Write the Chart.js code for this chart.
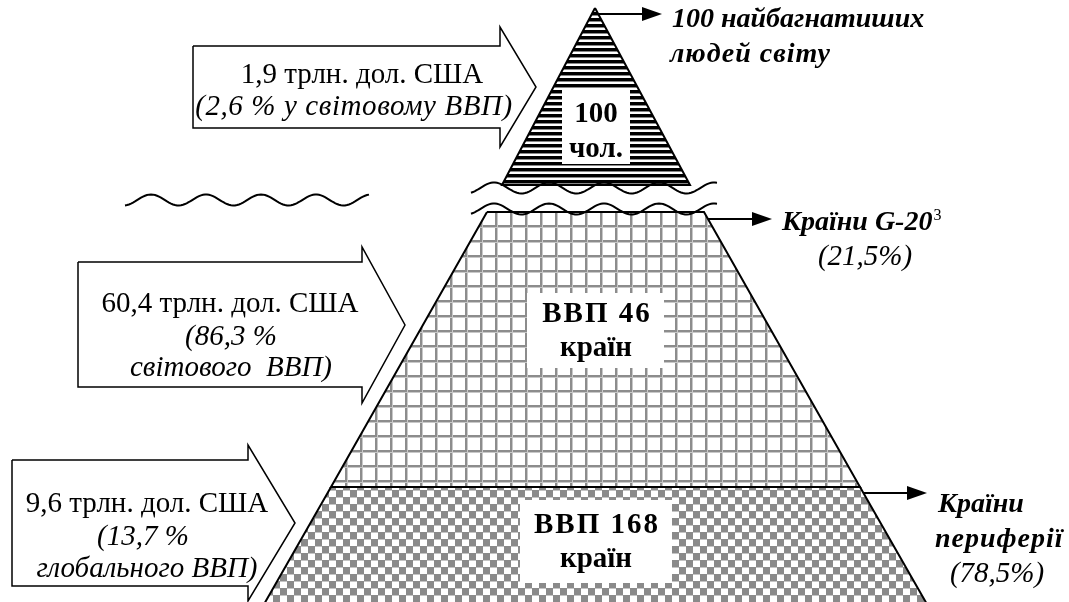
<!DOCTYPE html>
<html>
<head>
<meta charset="utf-8">
<script src="https://cdn.jsdelivr.net/npm/chart.js@4.4.1/dist/chart.umd.min.js"></script>
<style>
  html, body { margin: 0; padding: 0; background: #fff; }
  #wrap { width: 1069px; height: 602px; }
</style>
</head>
<body>
<div id="wrap"><canvas id="c" width="1069" height="602"></canvas></div>
<script>
/* values */
const gdpTrillions = ["1,9", "60,4", "9,6"];        // трлн. дол. США per tier
const gdpShares = ["2,6", "86,3", "13,7"];           // % of world GDP
const tierCounts = [100, 46, 168];                   // people / countries
const groupShares = ["21,5", "78,5"];                // G-20, periphery

/* ---------- layout (pixels in a 1069 x 602 frame) ---------- */
const SERIF = "'Liberation Serif', 'Times New Roman', serif";
const WAVE_AMP = 5.5, WAVE_PERIOD = 55;

const topTri = [[595, 8], [690, 185], [502, 185]];
const midTier = [[487, 212], [704, 212], [860, 487], [331, 487]];
const lowTier = [[331, 487], [860, 487], [928, 606], [263, 606]];

const labelBoxes = [
  [562, 90, 630, 164],
  [527, 293, 664, 368],
  [520, 500, 672, 583],
];

// block arrow: body x0,y0,x1,y1, head top/bottom, tip x
const blockArrows = [
  { x0: 193, y0: 46, x1: 500, y1: 128, hTop: 27, hBot: 147, tip: 536 },
  { x0: 78, y0: 262, x1: 362, y1: 387, hTop: 247, hBot: 403, tip: 405 },
  { x0: 12, y0: 460, x1: 248, y1: 586, hTop: 445, hBot: 601, tip: 295 },
];

// pointer arrows: from x, to x, y
const pointers = [
  { x0: 598, x1: 662, y: 14 },
  { x0: 708, x1: 772, y: 219 },
  { x0: 864, x1: 927, y: 493 },
];

/* ---------- fill patterns ---------- */
function tile(w, h, draw) {
  const c = document.createElement("canvas");
  c.width = w; c.height = h;
  const g = c.getContext("2d");
  g.fillStyle = "#fff"; g.fillRect(0, 0, w, h);
  draw(g);
  return document.getElementById("c").getContext("2d").createPattern(c, "repeat");
}
const stripes = tile(6, 6, g => {
  g.fillStyle = "#000"; g.fillRect(0, 0, 6, 3);
  g.fillStyle = "#888"; g.fillRect(0, 3, 6, 1);
});
const grid = tile(15, 15, g => {
  g.fillStyle = "#8c8c8c"; g.fillRect(0, 0, 15, 2); g.fillRect(0, 0, 2, 15);
  g.fillStyle = "#c8c8c8"; g.fillRect(0, 2, 15, 1); g.fillRect(2, 0, 1, 15);
});
const checker = tile(14, 14, g => {
  g.fillStyle = "#8a8a8a"; g.fillRect(0, 0, 7, 7); g.fillRect(7, 7, 7, 7);
  g.fillStyle = "#c4c4c4";
  g.fillRect(7, 0, 7, 1); g.fillRect(0, 7, 7, 1);
});

/* ---------- helpers ---------- */
const pt = ([x, y]) => ({ x, y });
function poly(pts, fill, border, bw) {
  return {
    data: [...pts, pts[0]].map(pt),
    fill: fill ? "shape" : false,
    backgroundColor: fill || "transparent",
    borderColor: border || "transparent",
    borderWidth: bw || 0,
    pointRadius: 0, tension: 0, clip: false,
  };
}
function line(points, bw) {
  return {
    data: points, fill: false, borderColor: "#000", borderWidth: bw,
    pointRadius: 0, tension: 0, clip: false,
  };
}
function wave(x0, x1, yc, crestX) {
  const pts = [];
  for (let x = x0; x <= x1; x += 2) {
    pts.push({ x, y: yc - WAVE_AMP * Math.cos(2 * Math.PI * (x - crestX) / WAVE_PERIOD) });
  }
  return pts;
}
function blockArrow(a) {
  const cy = (a.hTop + a.hBot) / 2;
  return poly([[a.x0, a.y0], [a.x1, a.y0], [a.x1, a.hTop], [a.tip, cy],
    [a.x1, a.hBot], [a.x1, a.y1], [a.x0, a.y1]], "#fff", "#000", 1.5);
}

/* ---------- datasets in paint order (first = bottom) ---------- */
const layers = [
  poly(lowTier, checker, "#000", 2),
  poly(midTier, grid, "#000", 2),
  poly(topTri, stripes, "#000", 2),
  ...labelBoxes.map(([x0, y0, x1, y1]) => poly([[x0, y0], [x1, y0], [x1, y1], [x0, y1]], "#fff")),
  ...blockArrows.map(blockArrow),
  line(wave(125, 370, 200, 151), 2),
  line(wave(471, 718, 188, 494), 2),
  line(wave(471, 718, 209, 494), 2),
];
pointers.forEach(p => {
  layers.push(line([{ x: p.x0, y: p.y }, { x: p.x1 - 16, y: p.y }], 2));
  layers.push(poly([[p.x1 - 20, p.y - 7], [p.x1, p.y], [p.x1 - 20, p.y + 7]], "#000"));
});
layers.forEach((d, i) => { d.order = layers.length - i; });

/* ---------- text ---------- */
const texts = [
  // block arrows
  { t: `${gdpTrillions[0]} трлн. дол. США`, x: 362, y: 83, f: "", a: "center" },
  { t: `(${gdpShares[0]} % у світовому ВВП)`, x: 354, y: 115, f: "italic", a: "center", ls: 0.6 },
  { t: `${gdpTrillions[1]} трлн. дол. США`, x: 230, y: 312, f: "", a: "center" },
  { t: `(${gdpShares[1]} %`, x: 231, y: 345, f: "italic", a: "center" },
  { t: "світового  ВВП)", x: 231, y: 376, f: "italic", a: "center" },
  { t: `${gdpTrillions[2]} трлн. дол. США`, x: 147, y: 512, f: "", a: "center" },
  { t: `(${gdpShares[2]} %`, x: 143, y: 545, f: "italic", a: "center" },
  { t: "глобального ВВП)", x: 147, y: 577, f: "italic", a: "center" },
  // tier labels
  { t: `${tierCounts[0]}`, x: 596, y: 122, f: "bold", a: "center" },
  { t: "чол.", x: 596, y: 157, f: "bold", a: "center" },
  { t: `ВВП ${tierCounts[1]}`, x: 597, y: 322, f: "bold", a: "center", ls: 2 },
  { t: "країн", x: 596, y: 356, f: "bold", a: "center" },
  { t: `ВВП ${tierCounts[2]}`, x: 597, y: 533, f: "bold", a: "center", ls: 2 },
  { t: "країн", x: 596, y: 567, f: "bold", a: "center" },
  // right side
  { t: `${tierCounts[0]} найбагнатиших`, x: 672, y: 27, f: "italic bold", a: "left", s: 28 },
  { t: "людей світу", x: 670, y: 62, f: "italic bold", a: "left", s: 28, ls: 1 },
  { t: "Країни G-20", x: 782, y: 230, f: "italic bold", a: "left", s: 28, sup: "3" },
  { t: `(${groupShares[0]}%)`, x: 865, y: 265, f: "italic", a: "center" },
  { t: "Країни", x: 938, y: 512, f: "italic bold", a: "left", s: 28 },
  { t: "периферії", x: 935, y: 547, f: "italic bold", a: "left", s: 28, ls: 1 },
  { t: `(${groupShares[1]}%)`, x: 997, y: 582, f: "italic", a: "center" },
];

const textPlugin = {
  id: "labels",
  afterDraw(chart) {
    const { ctx, scales: { x, y } } = chart;
    ctx.save();
    ctx.fillStyle = "#000";
    ctx.textBaseline = "alphabetic";
    texts.forEach(d => {
      ctx.font = `${d.f} ${d.s || 29}px ${SERIF}`.trim();
      ctx.textAlign = d.a;
      ctx.letterSpacing = `${d.ls || 0}px`;
      const px = x.getPixelForValue(d.x), py = y.getPixelForValue(d.y);
      ctx.fillText(d.t, px, py);
      if (d.sup) {
        const w = ctx.measureText(d.t).width;
        ctx.font = `16px ${SERIF}`;
        ctx.textAlign = "left";
        ctx.fillText(d.sup, px + w + 1, py - 10);
      }
    });
    ctx.restore();
  },
};

new Chart(document.getElementById("c"), {
  type: "line",
  data: { datasets: layers },
  options: {
    responsive: false,
    animation: false,
    events: [],
    layout: { padding: 0 },
    plugins: { legend: { display: false }, tooltip: { enabled: false } },
    scales: {
      x: { type: "linear", min: 0, max: 1069, display: false },
      y: { type: "linear", min: 0, max: 602, reverse: true, display: false },
    },
  },
  plugins: [textPlugin],
});
</script>
</body>
</html>
